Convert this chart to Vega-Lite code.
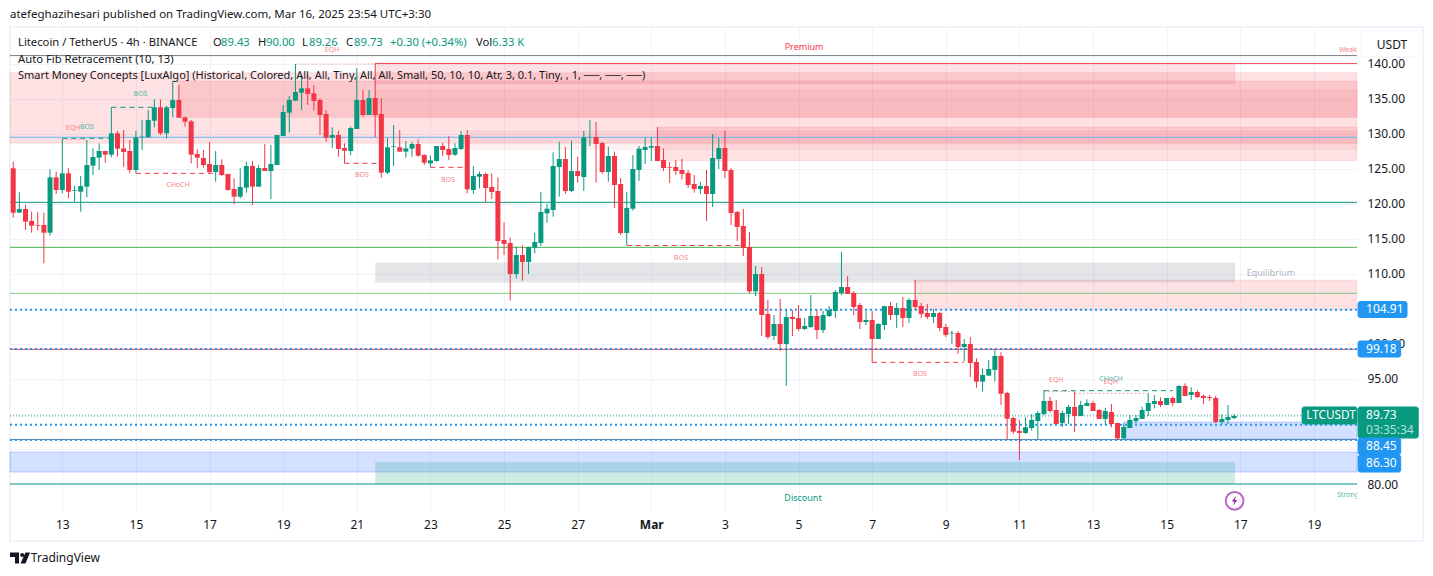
{"$schema":"https://vega.github.io/schema/vega-lite/v6.json","width":1347,"height":485,"autosize":"none","padding":{"left":10,"top":27,"right":76,"bottom":64},"background":"#ffffff","config":{"view":{"stroke":null},"scale":{"continuousPadding":0}},"resolve":{"scale":{"color":"independent","fill":"independent","stroke":"independent","size":"independent"}},
"layer":[
{"data":{"values":[{"start":"2025-02-11T13:54Z","end":"2025-03-21T23:12Z","top":145.29,"bottom":71.857}],"format":{"parse":{"start":"date","end":"date"}}},"mark":{"type":"rect","fill":"transparent","stroke":"#f0f3fa","strokeWidth":2},"encoding":{"x":{"field":"start","type":"temporal","title":null,"scale":{"type":"utc","nice":false,"domain":[{"year":2025,"month":2,"date":11,"hours":13,"minutes":54,"utc":true},{"year":2025,"month":3,"date":20,"hours":4,"minutes":6,"utc":true}]},"axis":{"grid":true,"gridColor":"#f0f3fa","ticks":false,"domain":false,"labelFont":"Noto Sans","labelFontSize":12,"labelColor":"#131722","labelPadding":7,"labelOverlap":false,"labelFlush":false,"values":[{"year":2025,"month":2,"date":13,"utc":true},{"year":2025,"month":2,"date":15,"utc":true},{"year":2025,"month":2,"date":17,"utc":true},{"year":2025,"month":2,"date":19,"utc":true},{"year":2025,"month":2,"date":21,"utc":true},{"year":2025,"month":2,"date":23,"utc":true},{"year":2025,"month":2,"date":25,"utc":true},{"year":2025,"month":2,"date":27,"utc":true},{"year":2025,"month":3,"date":1,"utc":true},{"year":2025,"month":3,"date":3,"utc":true},{"year":2025,"month":3,"date":5,"utc":true},{"year":2025,"month":3,"date":7,"utc":true},{"year":2025,"month":3,"date":9,"utc":true},{"year":2025,"month":3,"date":11,"utc":true},{"year":2025,"month":3,"date":13,"utc":true},{"year":2025,"month":3,"date":15,"utc":true},{"year":2025,"month":3,"date":17,"utc":true},{"year":2025,"month":3,"date":19,"utc":true}],"labelExpr":"utcdate(datum.value)==1 ? 'Mar' : utcdate(datum.value)","labelFontWeight":{"condition":{"test":"utcdate(datum.value)==1","value":"bold"},"value":"normal"}}},"x2":{"field":"end"},"y":{"field":"top","type":"quantitative","title":null,"scale":{"nice":false,"zero":false,"domain":[76,145.2857]},"axis":{"orient":"right","grid":true,"gridColor":"#f0f3fa","ticks":false,"domain":false,"labelFont":"Noto Sans","labelFontSize":12,"labelColor":"#131722","labelPadding":10,"labelOverlap":false,"format":".2f","values":[80,85,90,95,100,105,110,115,120,125,130,135,140]}},"y2":{"field":"bottom"}}},
{"data":{"values":[
{"start":"2025-02-11T13:54Z","end":"2025-03-20T04:06Z","top":138.76,"bottom":128.67,"kind":"premium"},
{"start":"2025-02-16T04:00Z","end":"2025-03-20T04:06Z","top":137.57,"bottom":132.39,"kind":"premium"},
{"start":"2025-02-21T12:00Z","end":"2025-03-20T04:06Z","top":136.29,"bottom":132.39,"kind":"premium2"},
{"start":"2025-02-21T12:00Z","end":"2025-03-16T20:36Z","top":140.1,"bottom":137.19,"kind":"premium"},
{"start":"2025-02-24T00:00Z","end":"2025-03-20T04:06Z","top":130.43,"bottom":127.81,"kind":"premium2"},
{"start":"2025-03-01T04:00Z","end":"2025-03-20T04:06Z","top":131.0,"bottom":126.19,"kind":"premium"},
{"start":"2025-03-08T04:00Z","end":"2025-03-20T04:06Z","top":109.14,"bottom":104.93,"kind":"premium"},
{"start":"2025-02-21T12:00Z","end":"2025-03-16T20:36Z","top":111.64,"bottom":108.79,"kind":"grey"},
{"start":"2025-02-11T13:54Z","end":"2025-03-20T04:06Z","top":84.57,"bottom":81.71,"kind":"blue"},
{"start":"2025-03-13T20:00Z","end":"2025-03-20T04:06Z","top":88.86,"bottom":86.43,"kind":"blue"},
{"start":"2025-02-21T12:00Z","end":"2025-03-16T20:36Z","top":83.14,"bottom":80.0,"kind":"teal"}
],"format":{"parse":{"start":"date","end":"date"}}},"mark":{"type":"rect","strokeWidth":1},"encoding":{"x":{"field":"start","type":"temporal","title":null,"scale":{"type":"utc","nice":false,"domain":[{"year":2025,"month":2,"date":11,"hours":13,"minutes":54,"utc":true},{"year":2025,"month":3,"date":20,"hours":4,"minutes":6,"utc":true}]}},"x2":{"field":"end"},"y":{"field":"top","type":"quantitative","title":null,"scale":{"nice":false,"zero":false,"domain":[76,145.2857]}},"y2":{"field":"bottom"},"fill":{"field":"kind","type":"nominal","legend":null,"scale":{"domain":["premium","premium2","grey","blue","teal"],"range":["rgba(242,54,69,0.15)","rgba(242,54,69,0.08)","rgba(120,123,134,0.2)","rgba(41,98,255,0.2)","rgba(8,153,129,0.2)"]}},"stroke":{"field":"kind","type":"nominal","legend":null,"scale":{"domain":["premium","premium2","grey","blue","teal"],"range":["rgba(242,54,69,0.1)","rgba(242,54,69,0.06)","rgba(120,123,134,0)","rgba(41,98,255,0.25)","rgba(8,153,129,0)"]}}}},
{"data":{"values":[
{"start":"2025-02-11T13:54Z","end":"2025-03-20T04:06Z","price":141.2,"kind":"fibgray"},
{"start":"2025-02-21T12:00Z","end":"2025-03-20T04:06Z","price":140.07,"kind":"red"},
{"start":"2025-02-11T13:54Z","end":"2025-03-20T04:06Z","price":129.53,"kind":"fibblue"},
{"start":"2025-02-11T13:54Z","end":"2025-03-20T04:06Z","price":120.24,"kind":"teal"},
{"start":"2025-02-11T13:54Z","end":"2025-03-20T04:06Z","price":113.81,"kind":"green"},
{"start":"2025-02-11T13:54Z","end":"2025-03-20T04:06Z","price":107.24,"kind":"lightgreen"},
{"start":"2025-02-11T13:54Z","end":"2025-03-20T04:06Z","price":99.24,"kind":"red"},
{"start":"2025-02-11T13:54Z","end":"2025-03-20T04:06Z","price":86.36,"kind":"fibgray"},
{"start":"2025-02-11T13:54Z","end":"2025-03-20T04:06Z","price":80.0,"kind":"teal"},
{"start":"2025-02-11T13:54Z","end":"2025-03-18T16:18Z","price":89.73,"kind":"last"},
{"start":"2025-02-13T00:00Z","end":"2025-02-14T08:00Z","price":129.38,"kind":"bosgreen"},
{"start":"2025-02-14T08:00Z","end":"2025-02-15T12:00Z","price":133.81,"kind":"bosgreen"},
{"start":"2025-02-15T00:00Z","end":"2025-02-17T04:00Z","price":124.38,"kind":"bosred"},
{"start":"2025-02-20T16:00Z","end":"2025-02-21T16:00Z","price":125.81,"kind":"bosred"},
{"start":"2025-02-23T00:00Z","end":"2025-02-24T00:00Z","price":125.24,"kind":"bosred"},
{"start":"2025-02-28T08:00Z","end":"2025-03-03T12:00Z","price":114.07,"kind":"bosred"},
{"start":"2025-03-07T00:00Z","end":"2025-03-09T12:00Z","price":97.38,"kind":"bosred"},
{"start":"2025-03-11T16:00Z","end":"2025-03-15T04:00Z","price":93.33,"kind":"bosgreen"},
{"start":"2025-02-19T08:00Z","end":"2025-02-21T12:00Z","price":140.0,"kind":"eqh"},
{"start":"2025-02-13T00:00Z","end":"2025-02-13T16:00Z","price":129.24,"kind":"eqh"},
{"start":"2025-03-11T16:00Z","end":"2025-03-12T12:00Z","price":93.19,"kind":"eqh"},
{"start":"2025-03-12T12:00Z","end":"2025-03-14T12:00Z","price":92.96,"kind":"eqh"}
],"format":{"parse":{"start":"date","end":"date"}}},"mark":{"type":"rule","strokeWidth":1},"encoding":{"x":{"field":"start","type":"temporal","title":null,"scale":{"type":"utc","nice":false,"domain":[{"year":2025,"month":2,"date":11,"hours":13,"minutes":54,"utc":true},{"year":2025,"month":3,"date":20,"hours":4,"minutes":6,"utc":true}]}},"x2":{"field":"end"},"y":{"field":"price","type":"quantitative","title":null,"scale":{"nice":false,"zero":false,"domain":[76,145.2857]}},"color":{"field":"kind","type":"nominal","legend":null,"scale":{"domain":["fibgray","red","fibblue","teal","green","lightgreen","last","bosgreen","bosred","eqh"],"range":["#787b86","#f23645","#64b5f6","#089981","#4caf50","#81c784","#089981","#089981","#f23645","#f7a3aa"]}},"strokeDash":{"field":"kind","type":"nominal","legend":null,"scale":{"domain":["fibgray","red","fibblue","teal","green","lightgreen","last","bosgreen","bosred","eqh"],"range":[[1,0],[1,0],[1,0],[1,0],[1,0],[1,0],[1,2],[5,4],[5,4],[2,2]]}}}},
{"data":{"values":[
{"start":"2025-02-11T13:54Z","end":"2025-03-20T04:06Z","price":104.91},
{"start":"2025-02-11T13:54Z","end":"2025-03-20T04:06Z","price":99.3},
{"start":"2025-02-11T13:54Z","end":"2025-03-20T04:06Z","price":88.45},
{"start":"2025-02-11T13:54Z","end":"2025-03-20T04:06Z","price":86.3}
],"format":{"parse":{"start":"date","end":"date"}}},"mark":{"type":"rule","color":"#2196f3","strokeWidth":2,"strokeDash":[2,3]},"encoding":{"x":{"field":"start","type":"temporal","title":null,"scale":{"type":"utc","nice":false,"domain":[{"year":2025,"month":2,"date":11,"hours":13,"minutes":54,"utc":true},{"year":2025,"month":3,"date":20,"hours":4,"minutes":6,"utc":true}]}},"x2":{"field":"end"},"y":{"field":"price","type":"quantitative","title":null,"scale":{"nice":false,"zero":false,"domain":[76,145.2857]}}}},
{"data":{"name":"candles","values":[
{"t":"2025-02-11T16:00Z","o":125.10,"h":126.05,"l":118.05,"c":118.76},
{"t":"2025-02-11T20:00Z","o":118.76,"h":121.67,"l":118.76,"c":119.29},
{"t":"2025-02-12T00:00Z","o":119.29,"h":119.86,"l":116.29,"c":117.48},
{"t":"2025-02-12T04:00Z","o":117.57,"h":118.90,"l":115.90,"c":116.90},
{"t":"2025-02-12T08:00Z","o":117.00,"h":118.90,"l":116.19,"c":116.90},
{"t":"2025-02-12T12:00Z","o":117.00,"h":118.76,"l":111.52,"c":115.90},
{"t":"2025-02-12T16:00Z","o":115.90,"h":124.95,"l":115.48,"c":123.81},
{"t":"2025-02-12T20:00Z","o":123.81,"h":124.62,"l":121.43,"c":122.00},
{"t":"2025-02-13T00:00Z","o":122.00,"h":129.38,"l":121.52,"c":124.38},
{"t":"2025-02-13T04:00Z","o":124.38,"h":125.10,"l":120.81,"c":121.76},
{"t":"2025-02-13T08:00Z","o":121.90,"h":122.62,"l":120.33,"c":122.00},
{"t":"2025-02-13T12:00Z","o":121.76,"h":124.00,"l":118.90,"c":122.57},
{"t":"2025-02-13T16:00Z","o":122.48,"h":129.14,"l":120.95,"c":125.57},
{"t":"2025-02-13T20:00Z","o":125.48,"h":127.95,"l":124.14,"c":126.71},
{"t":"2025-02-14T00:00Z","o":126.62,"h":128.67,"l":124.86,"c":127.57},
{"t":"2025-02-14T04:00Z","o":127.57,"h":127.57,"l":125.90,"c":127.05},
{"t":"2025-02-14T08:00Z","o":127.05,"h":133.81,"l":126.67,"c":130.10},
{"t":"2025-02-14T12:00Z","o":130.10,"h":130.43,"l":126.76,"c":127.90},
{"t":"2025-02-14T16:00Z","o":127.95,"h":130.57,"l":125.33,"c":127.43},
{"t":"2025-02-14T20:00Z","o":127.57,"h":129.14,"l":124.38,"c":124.86},
{"t":"2025-02-15T00:00Z","o":124.86,"h":130.43,"l":124.38,"c":129.52},
{"t":"2025-02-15T04:00Z","o":129.52,"h":132.00,"l":127.71,"c":129.62},
{"t":"2025-02-15T08:00Z","o":129.52,"h":133.43,"l":129.52,"c":132.00},
{"t":"2025-02-15T12:00Z","o":131.90,"h":134.95,"l":130.95,"c":133.81},
{"t":"2025-02-15T16:00Z","o":133.81,"h":134.95,"l":129.86,"c":130.10},
{"t":"2025-02-15T20:00Z","o":130.10,"h":134.00,"l":129.38,"c":133.81},
{"t":"2025-02-16T00:00Z","o":133.71,"h":137.57,"l":132.38,"c":134.86},
{"t":"2025-02-16T04:00Z","o":134.86,"h":137.00,"l":132.33,"c":132.33},
{"t":"2025-02-16T08:00Z","o":132.38,"h":132.48,"l":131.05,"c":131.76},
{"t":"2025-02-16T12:00Z","o":131.81,"h":132.00,"l":125.81,"c":127.05},
{"t":"2025-02-16T16:00Z","o":127.14,"h":127.81,"l":125.10,"c":126.62},
{"t":"2025-02-16T20:00Z","o":126.57,"h":127.71,"l":125.19,"c":125.57},
{"t":"2025-02-17T00:00Z","o":125.71,"h":128.86,"l":124.48,"c":124.57},
{"t":"2025-02-17T04:00Z","o":124.57,"h":127.57,"l":123.19,"c":125.57},
{"t":"2025-02-17T08:00Z","o":125.57,"h":126.38,"l":124.00,"c":124.14},
{"t":"2025-02-17T12:00Z","o":124.29,"h":124.29,"l":121.90,"c":122.00},
{"t":"2025-02-17T16:00Z","o":122.14,"h":123.67,"l":120.00,"c":121.05},
{"t":"2025-02-17T20:00Z","o":121.05,"h":125.10,"l":120.81,"c":122.43},
{"t":"2025-02-18T00:00Z","o":122.33,"h":126.05,"l":121.62,"c":125.43},
{"t":"2025-02-18T04:00Z","o":125.43,"h":126.14,"l":119.86,"c":122.48},
{"t":"2025-02-18T08:00Z","o":122.48,"h":125.57,"l":122.48,"c":125.14},
{"t":"2025-02-18T12:00Z","o":125.14,"h":128.57,"l":124.71,"c":124.71},
{"t":"2025-02-18T16:00Z","o":124.71,"h":128.43,"l":120.71,"c":125.71},
{"t":"2025-02-18T20:00Z","o":125.57,"h":129.86,"l":125.57,"c":129.86},
{"t":"2025-02-19T00:00Z","o":129.71,"h":134.14,"l":129.71,"c":133.14},
{"t":"2025-02-19T04:00Z","o":133.05,"h":135.43,"l":130.19,"c":134.86},
{"t":"2025-02-19T08:00Z","o":134.76,"h":140.00,"l":134.76,"c":136.00},
{"t":"2025-02-19T12:00Z","o":135.90,"h":138.43,"l":133.43,"c":136.52},
{"t":"2025-02-19T16:00Z","o":136.52,"h":138.43,"l":134.14,"c":135.71},
{"t":"2025-02-19T20:00Z","o":135.81,"h":137.00,"l":133.33,"c":134.71},
{"t":"2025-02-20T00:00Z","o":134.86,"h":135.10,"l":129.86,"c":132.71},
{"t":"2025-02-20T04:00Z","o":132.86,"h":133.43,"l":128.90,"c":129.48},
{"t":"2025-02-20T08:00Z","o":129.48,"h":130.95,"l":128.00,"c":129.86},
{"t":"2025-02-20T12:00Z","o":129.86,"h":130.48,"l":126.76,"c":127.86},
{"t":"2025-02-20T16:00Z","o":128.00,"h":128.67,"l":125.81,"c":127.62},
{"t":"2025-02-20T20:00Z","o":127.57,"h":131.05,"l":127.00,"c":130.86},
{"t":"2025-02-21T00:00Z","o":130.71,"h":139.38,"l":130.71,"c":134.86},
{"t":"2025-02-21T04:00Z","o":134.86,"h":136.29,"l":132.48,"c":132.71},
{"t":"2025-02-21T08:00Z","o":132.71,"h":136.29,"l":132.71,"c":135.14},
{"t":"2025-02-21T12:00Z","o":135.14,"h":140.10,"l":129.52,"c":132.71},
{"t":"2025-02-21T16:00Z","o":132.86,"h":135.10,"l":123.76,"c":124.48},
{"t":"2025-02-21T20:00Z","o":124.48,"h":129.43,"l":124.29,"c":128.10},
{"t":"2025-02-22T00:00Z","o":128.19,"h":131.29,"l":125.43,"c":128.29},
{"t":"2025-02-22T04:00Z","o":128.10,"h":130.57,"l":127.48,"c":127.48},
{"t":"2025-02-22T08:00Z","o":127.48,"h":129.00,"l":126.62,"c":127.95},
{"t":"2025-02-22T12:00Z","o":127.90,"h":128.90,"l":126.76,"c":128.57},
{"t":"2025-02-22T16:00Z","o":128.57,"h":129.24,"l":126.76,"c":126.90},
{"t":"2025-02-22T20:00Z","o":127.00,"h":127.10,"l":125.57,"c":125.90},
{"t":"2025-02-23T00:00Z","o":125.81,"h":126.95,"l":125.24,"c":126.24},
{"t":"2025-02-23T04:00Z","o":126.14,"h":128.29,"l":126.05,"c":128.29},
{"t":"2025-02-23T08:00Z","o":128.29,"h":128.76,"l":126.86,"c":127.71},
{"t":"2025-02-23T12:00Z","o":127.86,"h":129.71,"l":126.29,"c":127.00},
{"t":"2025-02-23T16:00Z","o":127.05,"h":128.67,"l":126.86,"c":128.00},
{"t":"2025-02-23T20:00Z","o":127.86,"h":130.43,"l":127.71,"c":129.86},
{"t":"2025-02-24T00:00Z","o":129.86,"h":130.57,"l":121.52,"c":122.10},
{"t":"2025-02-24T04:00Z","o":122.00,"h":125.43,"l":121.43,"c":124.00},
{"t":"2025-02-24T08:00Z","o":123.90,"h":124.62,"l":122.24,"c":124.29},
{"t":"2025-02-24T12:00Z","o":124.29,"h":124.48,"l":120.24,"c":122.29},
{"t":"2025-02-24T16:00Z","o":122.43,"h":124.38,"l":120.71,"c":121.71},
{"t":"2025-02-24T20:00Z","o":121.86,"h":123.81,"l":112.10,"c":114.71},
{"t":"2025-02-25T00:00Z","o":114.86,"h":117.38,"l":112.71,"c":114.29},
{"t":"2025-02-25T04:00Z","o":114.43,"h":115.19,"l":106.19,"c":110.00},
{"t":"2025-02-25T08:00Z","o":110.00,"h":113.90,"l":109.38,"c":112.71},
{"t":"2025-02-25T12:00Z","o":112.71,"h":114.10,"l":109.05,"c":111.71},
{"t":"2025-02-25T16:00Z","o":111.71,"h":113.90,"l":110.00,"c":113.86},
{"t":"2025-02-25T20:00Z","o":113.76,"h":115.90,"l":112.95,"c":114.57},
{"t":"2025-02-26T00:00Z","o":114.43,"h":121.71,"l":114.00,"c":118.86},
{"t":"2025-02-26T04:00Z","o":118.67,"h":120.00,"l":117.33,"c":119.33},
{"t":"2025-02-26T08:00Z","o":119.14,"h":127.38,"l":118.19,"c":125.43},
{"t":"2025-02-26T12:00Z","o":125.29,"h":128.90,"l":121.05,"c":126.43},
{"t":"2025-02-26T16:00Z","o":126.43,"h":128.10,"l":121.43,"c":121.86},
{"t":"2025-02-26T20:00Z","o":121.86,"h":129.05,"l":121.71,"c":124.71},
{"t":"2025-02-27T00:00Z","o":124.71,"h":126.76,"l":123.05,"c":124.00},
{"t":"2025-02-27T04:00Z","o":123.86,"h":130.43,"l":121.86,"c":129.52},
{"t":"2025-02-27T08:00Z","o":129.48,"h":132.00,"l":128.29,"c":129.52},
{"t":"2025-02-27T12:00Z","o":129.57,"h":131.71,"l":123.05,"c":128.57},
{"t":"2025-02-27T16:00Z","o":128.71,"h":128.90,"l":124.29,"c":124.57},
{"t":"2025-02-27T20:00Z","o":124.57,"h":128.19,"l":123.19,"c":126.86},
{"t":"2025-02-28T00:00Z","o":126.86,"h":127.48,"l":119.43,"c":122.71},
{"t":"2025-02-28T04:00Z","o":122.86,"h":123.71,"l":115.57,"c":115.86},
{"t":"2025-02-28T08:00Z","o":115.86,"h":121.76,"l":114.14,"c":119.43},
{"t":"2025-02-28T12:00Z","o":119.33,"h":127.00,"l":119.05,"c":125.00},
{"t":"2025-02-28T16:00Z","o":124.86,"h":128.29,"l":123.29,"c":127.90},
{"t":"2025-02-28T20:00Z","o":127.71,"h":129.52,"l":125.71,"c":128.14},
{"t":"2025-03-01T00:00Z","o":128.05,"h":129.52,"l":126.14,"c":128.29},
{"t":"2025-03-01T04:00Z","o":128.29,"h":131.00,"l":126.14,"c":126.14},
{"t":"2025-03-01T08:00Z","o":126.29,"h":127.95,"l":124.71,"c":125.14},
{"t":"2025-03-01T12:00Z","o":125.29,"h":126.00,"l":123.00,"c":125.19},
{"t":"2025-03-01T16:00Z","o":125.29,"h":126.29,"l":124.14,"c":124.71},
{"t":"2025-03-01T20:00Z","o":124.86,"h":126.43,"l":123.52,"c":124.29},
{"t":"2025-03-02T00:00Z","o":124.43,"h":124.86,"l":122.29,"c":122.71},
{"t":"2025-03-02T04:00Z","o":122.86,"h":124.14,"l":121.62,"c":122.14},
{"t":"2025-03-02T08:00Z","o":122.14,"h":123.14,"l":121.43,"c":122.57},
{"t":"2025-03-02T12:00Z","o":122.57,"h":124.86,"l":117.57,"c":121.43},
{"t":"2025-03-02T16:00Z","o":121.43,"h":130.00,"l":119.57,"c":126.57},
{"t":"2025-03-02T20:00Z","o":126.43,"h":129.43,"l":125.00,"c":128.00},
{"t":"2025-03-03T00:00Z","o":128.00,"h":130.43,"l":123.71,"c":124.71},
{"t":"2025-03-03T04:00Z","o":124.86,"h":125.14,"l":117.00,"c":118.71},
{"t":"2025-03-03T08:00Z","o":118.86,"h":119.00,"l":114.71,"c":116.71},
{"t":"2025-03-03T12:00Z","o":116.86,"h":119.29,"l":112.57,"c":113.71},
{"t":"2025-03-03T16:00Z","o":113.86,"h":116.00,"l":107.24,"c":107.52},
{"t":"2025-03-03T20:00Z","o":107.52,"h":111.14,"l":106.86,"c":110.00},
{"t":"2025-03-04T00:00Z","o":110.00,"h":111.00,"l":101.14,"c":104.14},
{"t":"2025-03-04T04:00Z","o":104.29,"h":106.29,"l":100.71,"c":101.00},
{"t":"2025-03-04T08:00Z","o":101.14,"h":104.14,"l":100.57,"c":102.86},
{"t":"2025-03-04T12:00Z","o":102.86,"h":106.43,"l":99.00,"c":100.00},
{"t":"2025-03-04T16:00Z","o":100.00,"h":105.00,"l":94.00,"c":103.86},
{"t":"2025-03-04T20:00Z","o":103.86,"h":104.86,"l":101.14,"c":103.57},
{"t":"2025-03-05T00:00Z","o":103.71,"h":105.57,"l":101.86,"c":102.14},
{"t":"2025-03-05T04:00Z","o":102.14,"h":103.71,"l":102.00,"c":102.57},
{"t":"2025-03-05T08:00Z","o":102.43,"h":107.00,"l":102.29,"c":104.00},
{"t":"2025-03-05T12:00Z","o":104.00,"h":104.86,"l":100.71,"c":102.00},
{"t":"2025-03-05T16:00Z","o":102.00,"h":104.71,"l":101.57,"c":104.14},
{"t":"2025-03-05T20:00Z","o":104.00,"h":105.43,"l":103.86,"c":104.86},
{"t":"2025-03-06T00:00Z","o":104.71,"h":107.71,"l":103.71,"c":107.43},
{"t":"2025-03-06T04:00Z","o":107.29,"h":113.14,"l":107.00,"c":108.14},
{"t":"2025-03-06T08:00Z","o":108.14,"h":109.71,"l":107.14,"c":107.14},
{"t":"2025-03-06T12:00Z","o":107.29,"h":107.57,"l":104.14,"c":105.29},
{"t":"2025-03-06T16:00Z","o":105.57,"h":105.86,"l":102.14,"c":103.14},
{"t":"2025-03-06T20:00Z","o":103.14,"h":104.71,"l":102.71,"c":103.43},
{"t":"2025-03-07T00:00Z","o":103.43,"h":104.71,"l":97.38,"c":100.71},
{"t":"2025-03-07T04:00Z","o":100.71,"h":103.00,"l":100.71,"c":102.86},
{"t":"2025-03-07T08:00Z","o":102.71,"h":105.43,"l":102.00,"c":105.43},
{"t":"2025-03-07T12:00Z","o":105.43,"h":106.00,"l":103.43,"c":104.14},
{"t":"2025-03-07T16:00Z","o":104.14,"h":105.86,"l":102.29,"c":105.14},
{"t":"2025-03-07T20:00Z","o":105.14,"h":106.71,"l":102.43,"c":103.71},
{"t":"2025-03-08T00:00Z","o":103.71,"h":106.57,"l":103.00,"c":106.29},
{"t":"2025-03-08T04:00Z","o":106.29,"h":109.14,"l":104.86,"c":105.29},
{"t":"2025-03-08T08:00Z","o":105.43,"h":105.86,"l":103.71,"c":104.29},
{"t":"2025-03-08T12:00Z","o":104.43,"h":105.71,"l":103.57,"c":103.86},
{"t":"2025-03-08T16:00Z","o":103.86,"h":105.00,"l":103.00,"c":104.43},
{"t":"2025-03-08T20:00Z","o":104.43,"h":104.57,"l":101.86,"c":102.29},
{"t":"2025-03-09T00:00Z","o":102.43,"h":102.86,"l":101.00,"c":101.29},
{"t":"2025-03-09T04:00Z","o":101.52,"h":101.86,"l":100.00,"c":101.62},
{"t":"2025-03-09T08:00Z","o":101.57,"h":101.86,"l":98.57,"c":99.57},
{"t":"2025-03-09T12:00Z","o":99.57,"h":100.71,"l":97.57,"c":100.00},
{"t":"2025-03-09T16:00Z","o":100.00,"h":101.00,"l":95.29,"c":97.29},
{"t":"2025-03-09T20:00Z","o":97.43,"h":97.95,"l":93.76,"c":94.62},
{"t":"2025-03-10T00:00Z","o":94.62,"h":96.52,"l":93.19,"c":95.57},
{"t":"2025-03-10T04:00Z","o":95.48,"h":97.71,"l":95.48,"c":96.43},
{"t":"2025-03-10T08:00Z","o":96.29,"h":99.24,"l":94.62,"c":98.29},
{"t":"2025-03-10T12:00Z","o":98.29,"h":98.81,"l":91.29,"c":92.90},
{"t":"2025-03-10T16:00Z","o":93.00,"h":93.19,"l":86.38,"c":89.33},
{"t":"2025-03-10T20:00Z","o":89.43,"h":89.62,"l":87.14,"c":87.48},
{"t":"2025-03-11T00:00Z","o":87.57,"h":89.14,"l":83.43,"c":87.29},
{"t":"2025-03-11T04:00Z","o":87.29,"h":89.52,"l":87.14,"c":88.10},
{"t":"2025-03-11T08:00Z","o":88.00,"h":90.00,"l":87.62,"c":89.14},
{"t":"2025-03-11T12:00Z","o":89.00,"h":90.43,"l":86.38,"c":90.14},
{"t":"2025-03-11T16:00Z","o":90.00,"h":93.38,"l":89.81,"c":91.86},
{"t":"2025-03-11T20:00Z","o":91.86,"h":92.43,"l":90.19,"c":90.43},
{"t":"2025-03-12T00:00Z","o":90.57,"h":92.00,"l":88.57,"c":88.57},
{"t":"2025-03-12T04:00Z","o":88.71,"h":90.48,"l":88.14,"c":90.14},
{"t":"2025-03-12T08:00Z","o":90.00,"h":91.29,"l":88.57,"c":91.00},
{"t":"2025-03-12T12:00Z","o":91.00,"h":93.19,"l":87.43,"c":89.71},
{"t":"2025-03-12T16:00Z","o":89.71,"h":91.86,"l":89.71,"c":91.29},
{"t":"2025-03-12T20:00Z","o":91.14,"h":92.10,"l":91.14,"c":91.57},
{"t":"2025-03-13T00:00Z","o":91.57,"h":91.86,"l":90.43,"c":90.43},
{"t":"2025-03-13T04:00Z","o":90.57,"h":90.71,"l":89.29,"c":89.29},
{"t":"2025-03-13T08:00Z","o":89.29,"h":90.86,"l":88.43,"c":90.43},
{"t":"2025-03-13T12:00Z","o":90.29,"h":91.43,"l":88.10,"c":88.57},
{"t":"2025-03-13T16:00Z","o":88.71,"h":88.76,"l":86.38,"c":86.52},
{"t":"2025-03-13T20:00Z","o":86.52,"h":88.67,"l":86.52,"c":88.14},
{"t":"2025-03-14T00:00Z","o":88.00,"h":89.86,"l":88.00,"c":89.14},
{"t":"2025-03-14T04:00Z","o":89.00,"h":89.86,"l":88.67,"c":89.43},
{"t":"2025-03-14T08:00Z","o":89.29,"h":91.05,"l":89.29,"c":90.57},
{"t":"2025-03-14T12:00Z","o":90.43,"h":92.95,"l":89.71,"c":91.57},
{"t":"2025-03-14T16:00Z","o":91.43,"h":92.71,"l":90.81,"c":91.86},
{"t":"2025-03-14T20:00Z","o":91.86,"h":92.38,"l":91.00,"c":91.29},
{"t":"2025-03-15T00:00Z","o":91.29,"h":92.29,"l":91.29,"c":92.29},
{"t":"2025-03-15T04:00Z","o":92.29,"h":92.48,"l":91.14,"c":91.57},
{"t":"2025-03-15T08:00Z","o":91.57,"h":94.14,"l":91.57,"c":94.00},
{"t":"2025-03-15T12:00Z","o":94.00,"h":94.38,"l":92.57,"c":92.57},
{"t":"2025-03-15T16:00Z","o":92.71,"h":93.81,"l":92.00,"c":93.14},
{"t":"2025-03-15T20:00Z","o":93.14,"h":93.43,"l":92.29,"c":92.43},
{"t":"2025-03-16T00:00Z","o":92.57,"h":92.81,"l":91.43,"c":92.29},
{"t":"2025-03-16T04:00Z","o":92.43,"h":92.71,"l":91.86,"c":92.29},
{"t":"2025-03-16T08:00Z","o":92.29,"h":92.57,"l":88.71,"c":88.86},
{"t":"2025-03-16T12:00Z","o":88.86,"h":89.95,"l":88.57,"c":89.29},
{"t":"2025-03-16T16:00Z","o":89.14,"h":91.29,"l":88.57,"c":89.57},
{"t":"2025-03-16T20:00Z","o":89.43,"h":90.00,"l":89.26,"c":89.73}
],"format":{"parse":{"t":"date"}}},"layer":[
{"mark":{"type":"rule","strokeWidth":1},"encoding":{"x":{"field":"t","type":"temporal","title":null,"scale":{"type":"utc","nice":false,"domain":[{"year":2025,"month":2,"date":11,"hours":13,"minutes":54,"utc":true},{"year":2025,"month":3,"date":20,"hours":4,"minutes":6,"utc":true}]}},"y":{"field":"l","type":"quantitative","title":null,"scale":{"nice":false,"zero":false,"domain":[76,145.2857]}},"y2":{"field":"h"},"color":{"condition":{"test":"datum.c>=datum.o","value":"#089981"},"value":"#f23645"}}},
{"mark":{"type":"bar","size":5},"encoding":{"x":{"field":"t","type":"temporal","title":null,"scale":{"type":"utc","nice":false,"domain":[{"year":2025,"month":2,"date":11,"hours":13,"minutes":54,"utc":true},{"year":2025,"month":3,"date":20,"hours":4,"minutes":6,"utc":true}]}},"y":{"field":"o","type":"quantitative","title":null,"scale":{"nice":false,"zero":false,"domain":[76,145.2857]}},"y2":{"field":"c"},"color":{"condition":{"test":"datum.c>=datum.o","value":"#089981"},"value":"#f23645"}}}
]},
{"data":{"values":[
{"at":"2025-02-15T03:00Z","price":135.71,"label":"BOS","tone":"g","role":"small"},
{"at":"2025-02-13T07:00Z","price":130.86,"label":"EQH","tone":"r","role":"small"},
{"at":"2025-02-13T16:00Z","price":131.0,"label":"BOS","tone":"g","role":"small"},
{"at":"2025-02-16T03:24Z","price":122.71,"label":"CHoCH","tone":"r","role":"small"},
{"at":"2025-02-20T07:48Z","price":142.0,"label":"EQH","tone":"r","role":"small"},
{"at":"2025-02-21T03:24Z","price":124.14,"label":"BOS","tone":"r","role":"small"},
{"at":"2025-02-23T11:30Z","price":123.43,"label":"BOS","tone":"r","role":"small"},
{"at":"2025-03-01T19:24Z","price":112.29,"label":"BOS","tone":"r","role":"small"},
{"at":"2025-03-08T07:12Z","price":95.71,"label":"BOS","tone":"r","role":"small"},
{"at":"2025-03-11T23:54Z","price":94.86,"label":"EQH","tone":"r","role":"small"},
{"at":"2025-03-13T11:42Z","price":95.0,"label":"CHoCH","tone":"g","role":"small"},
{"at":"2025-03-13T11:42Z","price":94.57,"label":"EQH","tone":"r","role":"small"},
{"at":"2025-03-05T03:36Z","price":142.43,"label":"Premium","tone":"prem","role":"zone"},
{"at":"2025-03-19T22:12Z","price":142.0,"label":"Weak","tone":"r","role":"small"},
{"at":"2025-03-17T20:00Z","price":110.14,"label":"Equilibrium","tone":"eq","role":"zone"},
{"at":"2025-03-05T02:54Z","price":78.0,"label":"Discount","tone":"disc","role":"zone"},
{"at":"2025-03-19T22:12Z","price":78.43,"label":"Strong","tone":"g","role":"small"}
],"format":{"parse":{"at":"date"}}},"mark":{"type":"text","font":"Noto Sans","clip":true},"encoding":{"x":{"field":"at","type":"temporal","title":null,"scale":{"type":"utc","nice":false,"domain":[{"year":2025,"month":2,"date":11,"hours":13,"minutes":54,"utc":true},{"year":2025,"month":3,"date":20,"hours":4,"minutes":6,"utc":true}]}},"y":{"field":"price","type":"quantitative","title":null,"scale":{"nice":false,"zero":false,"domain":[76,145.2857]}},"text":{"field":"label"},"color":{"field":"tone","type":"nominal","legend":null,"scale":{"domain":["g","r","prem","eq","disc"],"range":["#4dbba8","#f7838c","#f23645","#b2b5be","#089981"]}},"size":{"field":"role","type":"nominal","legend":null,"scale":{"domain":["small","zone"],"range":[7,9]}}}},
{"data":{"values":[
{"start":"2025-03-20T04:48Z","end":"2025-03-21T12:42Z","top":106.07,"bottom":103.79,"kind":"blue"},
{"start":"2025-03-20T04:48Z","end":"2025-03-21T08:36Z","top":100.43,"bottom":98.14,"kind":"blue"},
{"start":"2025-03-20T04:48Z","end":"2025-03-21T20:00Z","top":91.0,"bottom":86.57,"kind":"green"},
{"start":"2025-03-18T16:18Z","end":"2025-03-20T04:06Z","top":91.0,"bottom":88.57,"kind":"green"},
{"start":"2025-03-20T04:48Z","end":"2025-03-21T08:36Z","top":86.57,"bottom":84.21,"kind":"blue"},
{"start":"2025-03-20T04:48Z","end":"2025-03-21T08:36Z","top":84.14,"bottom":81.71,"kind":"blue"},
{"start":"2025-03-20T06:48Z","end":"2025-03-21T20:36Z","top":144.71,"bottom":141.0,"kind":"button"}
],"format":{"parse":{"start":"date","end":"date"}}},"mark":{"type":"rect","cornerRadius":2},"encoding":{"x":{"field":"start","type":"temporal","title":null,"scale":{"type":"utc","nice":false,"domain":[{"year":2025,"month":2,"date":11,"hours":13,"minutes":54,"utc":true},{"year":2025,"month":3,"date":20,"hours":4,"minutes":6,"utc":true}]}},"x2":{"field":"end"},"y":{"field":"top","type":"quantitative","title":null,"scale":{"nice":false,"zero":false,"domain":[76,145.2857]}},"y2":{"field":"bottom"},"fill":{"field":"kind","type":"nominal","legend":null,"scale":{"domain":["blue","green","button"],"range":["#2196f3","#089981","#ffffff"]}},"stroke":{"field":"kind","type":"nominal","legend":null,"scale":{"domain":["blue","green","button"],"range":["#2196f3","#089981","#f0f3fa"]}}}},
{"data":{"values":[
{"at":"2025-03-20T10:00Z","price":104.93,"label":"104.91","tone":"w","role":"tag"},
{"at":"2025-03-20T10:00Z","price":99.29,"label":"99.18","tone":"w","role":"tag"},
{"at":"2025-03-20T10:00Z","price":89.86,"label":"89.73","tone":"w","role":"tag"},
{"at":"2025-03-20T10:00Z","price":87.71,"label":"03:35:34","tone":"dim","role":"tag"},
{"at":"2025-03-20T10:00Z","price":85.43,"label":"88.45","tone":"w","role":"tag"},
{"at":"2025-03-20T10:00Z","price":82.93,"label":"86.30","tone":"w","role":"tag"},
{"at":"2025-03-18T19:00Z","price":89.8,"label":"LTCUSDT","tone":"w","role":"pair"},
{"at":"2025-03-20T17:00Z","price":142.71,"label":"USDT","tone":"d","role":"tag"},
{"at":"2025-02-11T13:54Z","price":146.93,"label":"atefeghazihesari published on TradingView.com, Mar 16, 2025 23:54 UTC+3:30","tone":"d","role":"title"},
{"at":"2025-02-11T19:07Z","price":143.0,"label":"Litecoin / TetherUS · 4h · BINANCE","tone":"d","role":"legend"},
{"at":"2025-02-11T19:07Z","price":140.64,"label":"Auto Fib Retracement (10, 13)","tone":"d","role":"legend"},
{"at":"2025-02-11T19:07Z","price":138.29,"label":"Smart Money Concepts [LuxAlgo] (Historical, Colored, All, All, Tiny, All, All, Small, 50, 10, 10, Atr, 3, 0.1, Tiny, , 1, ──, ──, ──)","tone":"d","role":"smart"},
{"at":"2025-02-17T02:18Z","price":143.0,"label":"O","tone":"d","role":"legend"},
{"at":"2025-02-17T07:30Z","price":143.0,"label":"89.43","tone":"t","role":"legend"},
{"at":"2025-02-18T07:36Z","price":143.0,"label":"H","tone":"d","role":"legend"},
{"at":"2025-02-18T12:48Z","price":143.0,"label":"90.00","tone":"t","role":"legend"},
{"at":"2025-02-19T12:18Z","price":143.0,"label":"L","tone":"d","role":"legend"},
{"at":"2025-02-19T16:48Z","price":143.0,"label":"89.26","tone":"t","role":"legend"},
{"at":"2025-02-20T17:00Z","price":143.0,"label":"C","tone":"d","role":"legend"},
{"at":"2025-02-20T22:12Z","price":143.0,"label":"89.73","tone":"t","role":"legend"},
{"at":"2025-02-21T21:42Z","price":143.0,"label":"+0.30 (+0.34%)","tone":"t","role":"legend"},
{"at":"2025-02-24T05:42Z","price":143.0,"label":"Vol","tone":"d","role":"legend"},
{"at":"2025-02-24T16:12Z","price":143.0,"label":"6.33 K","tone":"t","role":"legend"},
{"at":"2025-02-12T03:30Z","price":69.43,"label":"TradingView","tone":"d","role":"tag"}
],"format":{"parse":{"at":"date"}}},"mark":{"type":"text","font":"Noto Sans","align":"left"},"encoding":{"x":{"field":"at","type":"temporal","title":null,"scale":{"type":"utc","nice":false,"domain":[{"year":2025,"month":2,"date":11,"hours":13,"minutes":54,"utc":true},{"year":2025,"month":3,"date":20,"hours":4,"minutes":6,"utc":true}]}},"y":{"field":"price","type":"quantitative","title":null,"scale":{"nice":false,"zero":false,"domain":[76,145.2857]}},"text":{"field":"label"},"color":{"field":"tone","type":"nominal","legend":null,"scale":{"domain":["w","dim","d","t"],"range":["#ffffff","#b5e0d8","#131722","#089981"]}},"size":{"field":"role","type":"nominal","legend":null,"scale":{"domain":["tag","pair","title","legend","smart"],"range":[12,11,11.5,11.7,12.2]}}}},
{"data":{"values":[{"at":"2025-03-16T20:18Z","price":77.6}],"format":{"parse":{"at":"date"}}},"mark":{"type":"point","shape":"circle","size":314,"stroke":"#9c27b0","strokeWidth":2,"fill":"transparent"},"encoding":{"x":{"field":"at","type":"temporal","title":null,"scale":{"type":"utc","nice":false,"domain":[{"year":2025,"month":2,"date":11,"hours":13,"minutes":54,"utc":true},{"year":2025,"month":3,"date":20,"hours":4,"minutes":6,"utc":true}]}},"y":{"field":"price","type":"quantitative","title":null,"scale":{"nice":false,"zero":false,"domain":[76,145.2857]}}}},
{"data":{"values":[{"at":"2025-03-16T20:18Z","price":77.6}],"format":{"parse":{"at":"date"}}},"mark":{"type":"point","shape":"M0.3 -0.9 L-0.5 0.15 H-0.05 L-0.3 0.9 L0.5 -0.15 H0.05 Z","size":121,"filled":true,"fill":"#9c27b0","opacity":1},"encoding":{"x":{"field":"at","type":"temporal","title":null,"scale":{"type":"utc","nice":false,"domain":[{"year":2025,"month":2,"date":11,"hours":13,"minutes":54,"utc":true},{"year":2025,"month":3,"date":20,"hours":4,"minutes":6,"utc":true}]}},"y":{"field":"price","type":"quantitative","title":null,"scale":{"nice":false,"zero":false,"domain":[76,145.2857]}}}},
{"data":{"values":[{"at":"2025-02-11T20:25Z","price":69.43}],"format":{"parse":{"at":"date"}}},"mark":{"type":"point","shape":"M-1 -0.55 H-0.1 V0.55 H-0.5 V-0.1 H-1 Z M0.02 -0.3 A0.2 0.2 0 1 0 0.42 -0.3 A0.2 0.2 0 1 0 0.02 -0.3 Z M0.55 -0.55 H1 L0.55 0.55 H0.05 Z","size":400,"filled":true,"fill":"#131722","opacity":1},"encoding":{"x":{"field":"at","type":"temporal","title":null,"scale":{"type":"utc","nice":false,"domain":[{"year":2025,"month":2,"date":11,"hours":13,"minutes":54,"utc":true},{"year":2025,"month":3,"date":20,"hours":4,"minutes":6,"utc":true}]}},"y":{"field":"price","type":"quantitative","title":null,"scale":{"nice":false,"zero":false,"domain":[76,145.2857]}}}}
]}
